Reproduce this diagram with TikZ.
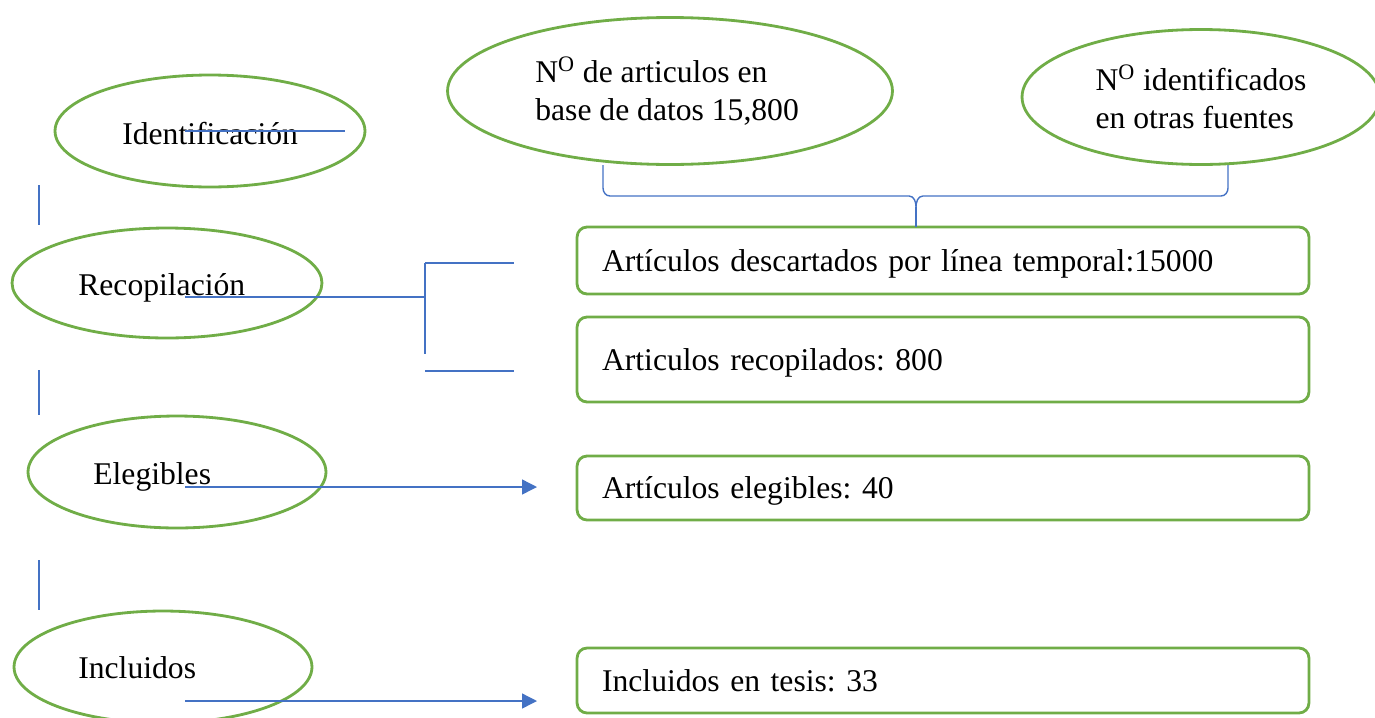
\documentclass[tikz,border=0pt]{standalone}
\usepackage{fontspec}
\setmainfont{Liberation Serif}
\usetikzlibrary{shapes.geometric, arrows.meta}
\definecolor{leaf}{HTML}{70AD47}
\definecolor{ink}{HTML}{4472C4}
\frenchspacing
\begin{document}
\begin{tikzpicture}[x=0.02cm, y=-0.02cm, font=\fontsize{18}{21.6}\selectfont,
    stage/.style = {draw=leaf, line width=1.6pt, ellipse, inner sep=0pt},
    box/.style = {draw=leaf, line width=1.6pt, rounded corners=0.2cm, minimum width=14.64cm, text width=13.64cm,
        text height=0.48cm, text depth=0.06cm, align=left, inner xsep=0.5cm},
    link/.style = {draw=ink, line width=0.8pt},
    word/.style = {anchor=base west, inner sep=0pt}]
    \useasboundingbox (0,0) rectangle (1375,717);
    % left column
    \node[stage, minimum width=6.2cm, minimum height=2.24cm] (ident) at (210,131) {};
    \node[stage, minimum width=6.2cm, minimum height=2.2cm] (recop) at (167,283) {};
    \node[stage, minimum width=5.96cm, minimum height=2.24cm] (eleg) at (177,472) {};
    \node[stage, minimum width=5.96cm, minimum height=2.24cm] (incl) at (163,667) {};
    \node[word] (identtxt) at (122,144) {Identificación};
    \node[word] (recoptxt) at (78,295) {Recopilación};
    \node[word] (elegtxt) at (93,484) {Elegibles};
    \node[word] (incltxt) at (78,678) {Incluidos};
    % sources
    \node[stage, minimum width=8.9cm, minimum height=2.94cm] (base) at (670,91) {};
    \node[word, align=left] (basetxt) at (535,120.7) {N\textsuperscript{O} de articulos en\\base de datos 15,800};
    \node[stage, minimum width=7.16cm, minimum height=2.7cm, align=left] (other) at (1201,97) {N\textsuperscript{O} identificados\\en otras fuentes};
    % boxes
    \node[box, minimum height=1.34cm] (descart) at (943,260.5) {Artículos descartados por línea temporal:15000};
    \node[box, minimum height=1.7cm] (recopart) at (943,359.5) {Articulos recopilados: 800};
    \node[box, minimum height=1.28cm] (elegart) at (943,488) {Artículos elegibles: 40};
    \node[box, minimum height=1.3cm] (tesis) at (943,680.5) {Incluidos en tesis: 33};
    % free ends
    \coordinate (i1) at (185,131);  \coordinate (i2) at (345,131);
    \coordinate (r1) at (185,297);  \coordinate (rj) at (425,297);
    \coordinate (rt) at (425,263);  \coordinate (rb) at (425,354);
    \coordinate (rt2) at (514,263);
    \coordinate (rc) at (425,371);  \coordinate (rc2) at (514,371);
    \coordinate (e1) at (185,487);  \coordinate (e2) at (537,487);
    \coordinate (n1) at (185,701);  \coordinate (n2) at (537,701);
    \coordinate (bl) at (603,165);  \coordinate (br) at (1228,165);
    \coordinate (tip) at (916,227);
    % connectors
    \draw[link] (i1) -- (i2);
    \draw[link] (r1) -- (rj);
    \draw[link] (rt) -- (rb);
    \draw[link] (rt) -- (rt2);
    \draw[link] (rc) -- (rc2);
    \draw[link, -{Triangle[length=0.3cm, width=0.3cm]}] (e1) -- (e2);
    \draw[link, -{Triangle[length=0.3cm, width=0.3cm]}] (n1) -- (n2);
    \draw[link] (bl) -- (603,188) to[out=-90, in=180] (610,196) -- (909,196)
        to[out=0, in=90] (tip |- 0,207) to[out=90, in=180] (923,196)
        -- (1221,196) to[out=0, in=-90] (1228,188) -- (br);
    \draw[link] (tip |- 0,207) -- (tip);
    % left marks
    \draw[link] (39,185) -- (39,225);
    \draw[link] (39,370) -- (39,415);
    \draw[link] (39,560) -- (39,610);
\end{tikzpicture}
\end{document}
